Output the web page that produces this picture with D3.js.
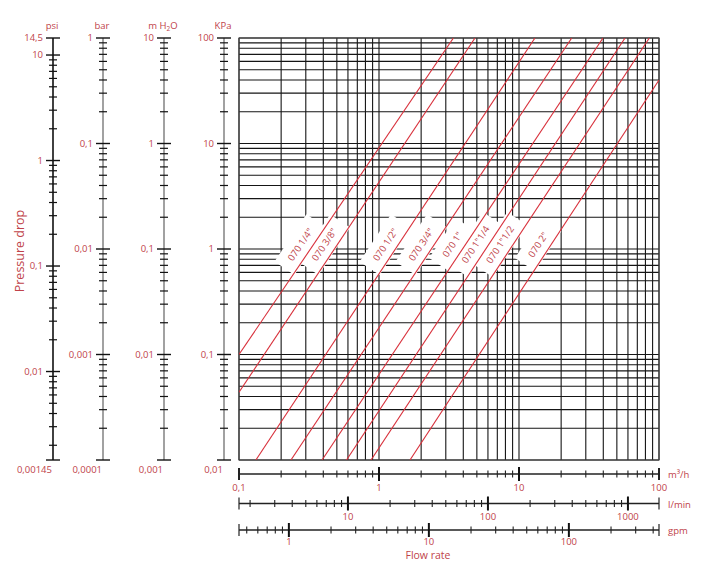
<!DOCTYPE html>
<html>
<head>
<meta charset="utf-8">
<script src="https://cdn.jsdelivr.net/npm/d3@7/dist/d3.min.js"></script>
<style>
body { margin: 0; background: #fff; }
text { font-family: "Open Sans", sans-serif; fill: #c0434a; font-size: 9.5px; }
</style>
</head>
<body>
<svg width="712" height="578"></svg>
<script>
// Pressure drop chart for the 070 valve sizes

// valve curves: two points each, flow in m3/h, pressure drop in kPa
var valveNames = ['070 1/4"', '070 3/8"', '070 1/2"', '070 3/4"', '070 1"', '070 1"1/4', '070 1"1/2', '070 2"'];
var flowLow = [0.1, 0.1, 0.132, 0.235, 0.392, 0.586, 0.877, 1.665];
var dropLow = [0.1, 0.0439, 0.01, 0.01, 0.01, 0.01, 0.01, 0.01];
var flowHigh = [3.4, 4.85, 13.0, 23.8, 39.8, 57.2, 85.3, 100];
var dropHigh = [100, 100, 100, 100, 100, 100, 100, 40];

// left pressure scales
var pressureUnits = ["psi", "bar", "m H2O", "KPa"];
var pressureMin = [0.00145, 0.0001, 0.001, 0.01];
var pressureMax = [14.5, 1, 10, 100];
var pressureTickValues = [
	[14.5, 10, 1, 0.1, 0.01, 0.00145],
	[1, 0.1, 0.01, 0.001, 0.0001],
	[10, 1, 0.1, 0.01, 0.001],
	[100, 10, 1, 0.1, 0.01]
];
var pressureTickLabels = [
	["14,5", "10", "1", "0,1", "0,01", "0,00145"],
	["1", "0,1", "0,01", "0,001", "0,0001"],
	["10", "1", "0,1", "0,01", "0,001"],
	["100", "10", "1", "0,1", "0,01"]
];

// bottom flow scales
var flowUnits = ["m³/h", "l/min", "gpm"];
var flowMin = [0.1, 1.6667, 0.44029];
var flowMax = [100, 1666.7, 440.29];
var flowTickValues = [[0.1, 1, 10, 100], [10, 100, 1000], [1, 10, 100]];
var flowTickLabels = [["0,1", "1", "10", "100"], ["10", "100", "1000"], ["1", "10", "100"]];

var svg = d3.select("svg");
var plotLeft = 239, plotRight = 659, plotTop = 38, plotBottom = 460;
var axisX = [53, 103, 164, 224];
var flowAxisY = [474, 503.5, 530];
var flowLabelGap = [14, 13.5, 11.5];

var x = d3.scaleLog().domain([0.1, 100]).range([plotLeft, plotRight]);
var y = d3.scaleLog().domain([0.01, 100]).range([plotBottom, plotTop]);

function isDecade(v) {
	var l = Math.log10(v);
	return Math.abs(l - Math.round(l)) < 1e-6;
}

// grid
var grid = svg.append("g").attr("stroke", "#151515").attr("stroke-width", 1.1);
grid.selectAll(".v").data(x.ticks()).enter().append("line")
	.attr("x1", d => x(d)).attr("x2", d => x(d))
	.attr("y1", plotTop).attr("y2", plotBottom);
grid.selectAll(".h").data(y.ticks()).enter().append("line")
	.attr("x1", plotLeft).attr("x2", plotRight)
	.attr("y1", d => y(d)).attr("y2", d => y(d));
grid.append("rect").attr("x", plotLeft).attr("y", plotTop)
	.attr("width", plotRight - plotLeft).attr("height", plotBottom - plotTop)
	.attr("fill", "none").attr("stroke", "#444");

// valve label positions
var labelDrop = 1.1;
var valves = valveNames.map((name, i) => {
	var x1 = x(flowLow[i]), y1 = y(dropLow[i]), x2 = x(flowHigh[i]), y2 = y(dropHigh[i]);
	var lf1 = Math.log10(flowLow[i]), lf2 = Math.log10(flowHigh[i]);
	var lp1 = Math.log10(dropLow[i]), lp2 = Math.log10(dropHigh[i]);
	var lf = lf1 + (Math.log10(labelDrop) - lp1) * (lf2 - lf1) / (lp2 - lp1);
	return {
		name: name, x1: x1, y1: y1, x2: x2, y2: y2,
		lx: x(Math.pow(10, lf)) - 13, ly: y(labelDrop),
		angle: Math.atan2(y2 - y1, x2 - x1) * 180 / Math.PI
	};
});

// white knock-outs behind labels
var labels = svg.append("g").selectAll("g").data(valves).enter().append("g")
	.attr("transform", d => "translate(" + d.lx + "," + d.ly + ") rotate(" + d.angle + ")");
var knock = labels.append("rect").attr("fill", "#fff");

svg.append("clipPath").attr("id", "plot").append("rect")
	.attr("x", plotLeft).attr("y", plotTop).attr("width", plotRight - plotLeft).attr("height", plotBottom - plotTop);

svg.append("g").attr("clip-path", "url(#plot)")
	.selectAll("line").data(valves).enter().append("line")
	.attr("x1", d => d.x1).attr("y1", d => d.y1)
	.attr("x2", d => d.x2).attr("y2", d => d.y2)
	.attr("stroke", "#d8303b").attr("stroke-width", 1.1);

var labelText = labels.append("text")
	.attr("text-anchor", "middle").attr("dy", "0.35em")
	.text(d => d.name);
labelText.each(function(d) { d.len = this.getComputedTextLength(); });
knock.attr("x", d => -d.len / 2 - 10).attr("y", -12)
	.attr("width", d => d.len + 20).attr("height", 24);

// left pressure axes
pressureUnits.forEach((unit, i) => {
	var s = d3.scaleLog().domain([pressureMin[i], pressureMax[i]]).range([plotBottom, plotTop]);
	var ax = axisX[i];
	var g = svg.append("g");
	g.append("line").attr("x1", ax).attr("x2", ax).attr("y1", plotTop).attr("y2", plotBottom)
		.attr("stroke", i == 0 ? "#111" : "#8a8a8a").attr("stroke-width", 1.6);
	var ticks = s.ticks().filter(v => v > pressureMin[i] * 1.001 && v < pressureMax[i] * 0.999);
	g.selectAll(".minor").data(ticks.filter(v => !isDecade(v))).enter().append("line")
		.attr("x1", ax - 4).attr("x2", ax + 4)
		.attr("y1", d => s(d)).attr("y2", d => s(d))
		.attr("stroke", "#111").attr("stroke-width", 1.2);
	var majors = pressureTickValues[i];
	g.selectAll(".major").data(majors).enter().append("line")
		.attr("x1", ax - 7).attr("x2", ax + 7)
		.attr("y1", d => s(d)).attr("y2", d => s(d))
		.attr("stroke", "#111").attr("stroke-width", 1.4);
	g.selectAll("text").data(majors).enter().append("text")
		.attr("text-anchor", "end")
		.attr("x", (d, j) => j == majors.length - 1 ? ax - 1 : ax - 10)
		.attr("y", (d, j) => j == majors.length - 1 ? s(d) + 10 : s(d))
		.attr("dy", "0.35em")
		.text((d, j) => pressureTickLabels[i][j]);
	var title = g.append("text").attr("text-anchor", "middle")
		.attr("x", ax - 1).attr("y", 29);
	if (unit == "m H2O") {
		title.append("tspan").text("m H");
		title.append("tspan").attr("font-size", "6.5px").attr("dy", 2).text("2");
		title.append("tspan").attr("dy", -2).text("O");
	} else {
		title.text(unit);
	}
});

svg.append("text").attr("transform", "translate(24,251) rotate(-90)")
	.attr("text-anchor", "middle").style("font-size", "12.5px")
	.text("Pressure drop");

// bottom flow axes
flowUnits.forEach((unit, i) => {
	var s = d3.scaleLog().domain([flowMin[i], flowMax[i]]).range([plotLeft, plotRight]);
	var ay = flowAxisY[i];
	var g = svg.append("g");
	g.append("line").attr("x1", plotLeft).attr("x2", plotRight).attr("y1", ay).attr("y2", ay)
		.attr("stroke", "#222").attr("stroke-width", 1.5);
	var ticks = s.ticks().filter(v => v > flowMin[i] * 1.001 && v < flowMax[i] * 0.999);
	g.selectAll(".minor").data(ticks.filter(v => !isDecade(v))).enter().append("line")
		.attr("x1", d => s(d)).attr("x2", d => s(d))
		.attr("y1", ay - 3.5).attr("y2", ay + 3.5)
		.attr("stroke", "#222").attr("stroke-width", 1.1);
	g.selectAll(".major").data(ticks.filter(isDecade)).enter().append("line")
		.attr("x1", d => s(d)).attr("x2", d => s(d))
		.attr("y1", ay - 7).attr("y2", ay + 7)
		.attr("stroke", "#111").attr("stroke-width", 2);
	g.selectAll(".end").data([flowMin[i], flowMax[i]]).enter().append("line")
		.attr("x1", d => s(d)).attr("x2", d => s(d))
		.attr("y1", ay - 6).attr("y2", ay + 6)
		.attr("stroke", "#222").attr("stroke-width", (d, j) => i == 0 ? 2 : 1.2);
	g.selectAll("text").data(flowTickValues[i]).enter().append("text")
		.attr("text-anchor", "middle")
		.attr("x", d => s(d)).attr("y", ay + flowLabelGap[i]).attr("dy", "0.35em")
		.text((d, j) => flowTickLabels[i][j]);
	g.append("text").attr("x", 668).attr("y", ay + 1).attr("dy", "0.35em").text(unit);
});

svg.append("text").attr("x", 428).attr("y", 555).attr("dy", "0.35em")
	.attr("text-anchor", "middle").style("font-size", "10.5px")
	.text("Flow rate");
</script>
</body>
</html>
